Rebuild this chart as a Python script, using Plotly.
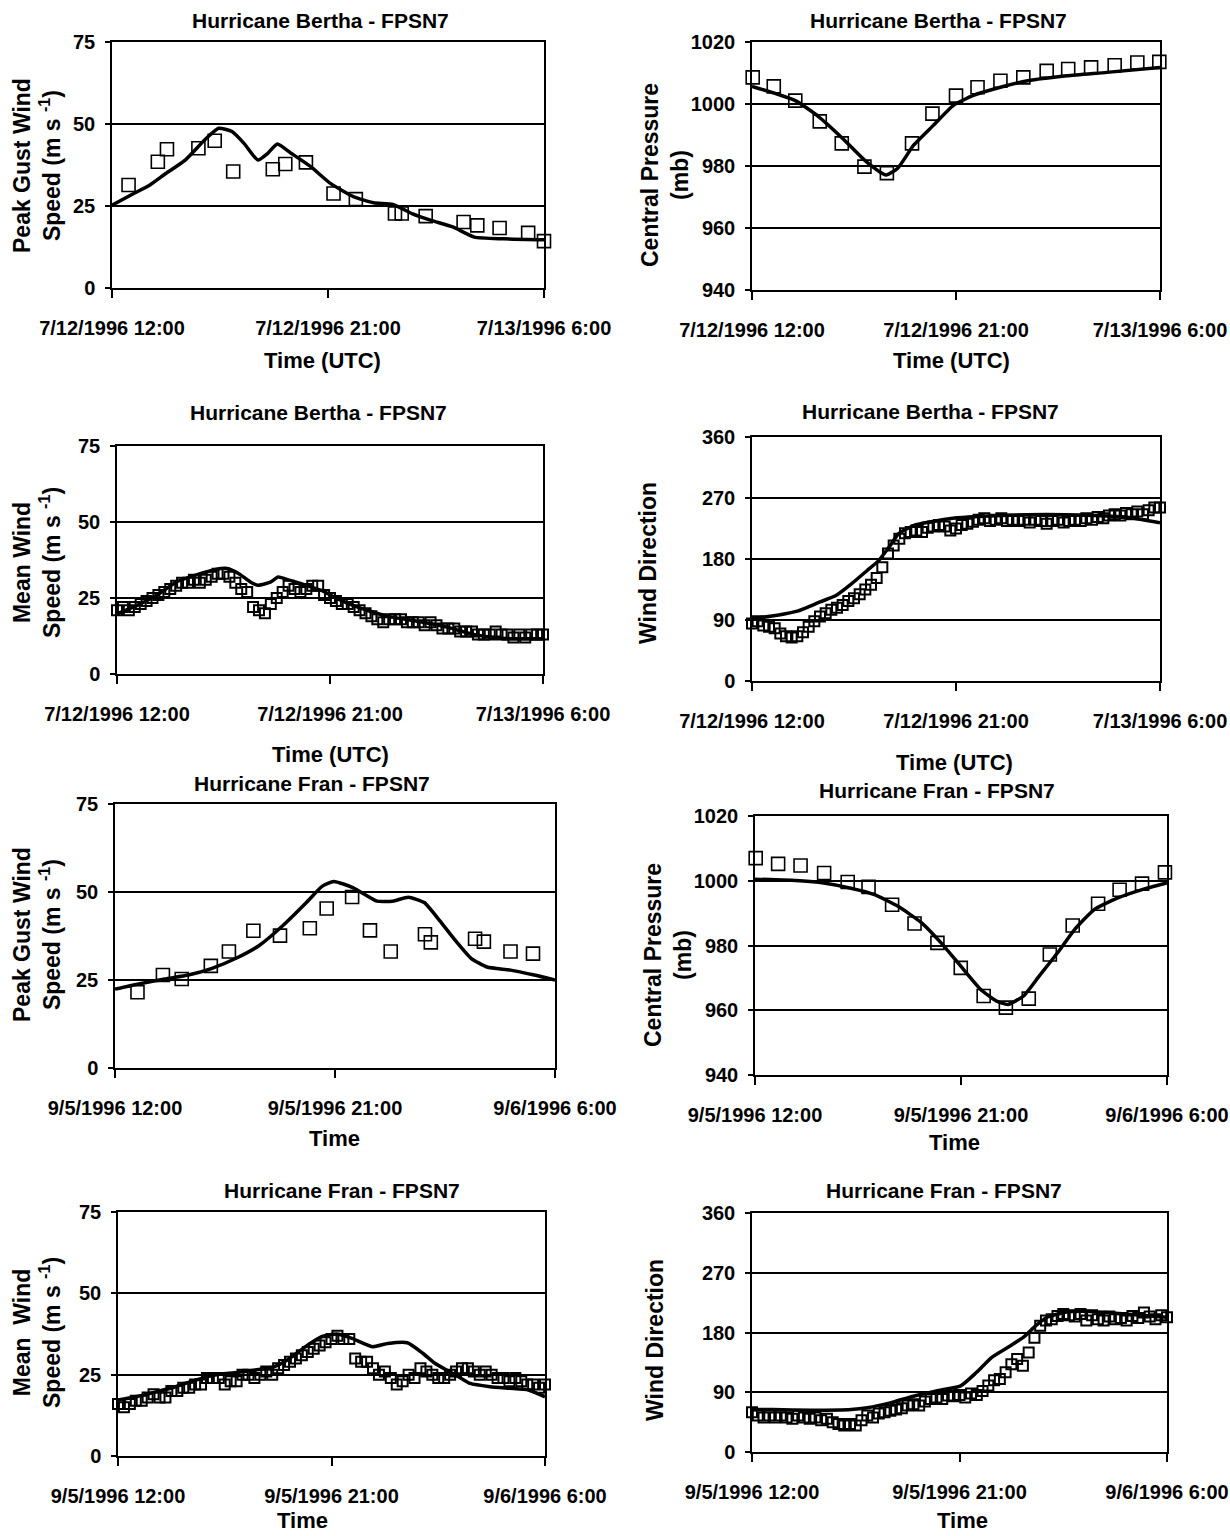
import plotly.graph_objects as go
import pandas as pd

W, H = 1230, 1536

# ---------------- data ----------------
bertha_start = "1996-07-12 12:00"
fran_start = "1996-09-05 12:00"

bertha_ticks = ["1996-07-12 12:00", "1996-07-12 21:00", "1996-07-13 06:00"]
bertha_ticktext = ["7/12/1996 12:00", "7/12/1996 21:00", "7/13/1996 6:00"]
fran_ticks = ["1996-09-05 12:00", "1996-09-05 21:00", "1996-09-06 06:00"]
fran_ticktext = ["9/5/1996 12:00", "9/5/1996 21:00", "9/6/1996 6:00"]

# Panel 1: Bertha peak gust (hours after start)
p1_line_h = [0, 0.77, 1.58, 2.24, 3.05, 3.87, 4.44, 5.0, 5.5, 6.08, 6.48, 6.89, 7.46, 8.28, 9.1, 10.08, 10.9, 11.7, 12.5, 13.3, 14.2, 15.1, 16.3, 18]
p1_line_v = [25.2, 28.3, 31.4, 34.9, 39, 45.2, 48.7, 47.7, 44.1, 39, 41, 43.9, 41.1, 37, 31.9, 27.8, 26, 25.5, 22.7, 20.6, 18.6, 15.5, 15, 14.7]
p1_obs_h = [0.69, 1.91, 2.29, 3.6, 4.28, 5.05, 6.7, 7.22, 8.08, 9.23, 10.16, 11.79, 12.07, 13.07, 14.65, 15.22, 16.15, 17.34, 18.0]
p1_obs_v = [31.4, 38.5, 42.3, 42.6, 44.9, 35.5, 36.2, 37.8, 38.3, 28.8, 27.1, 22.7, 22.7, 21.9, 20.1, 19.1, 18.3, 16.8, 14.3]

# Panel 2: Bertha central pressure
p2_line_h = [0, 1.91, 2.96, 4.0, 5.04, 5.91, 6.43, 7.13, 8.0, 8.87, 9.74, 10.96, 12.17, 13.9, 15.65, 18]
p2_line_v = [1005.7, 1001.1, 995.8, 988.9, 981.4, 977.1, 979.3, 986.7, 993.1, 999.5, 1002.7, 1005.4, 1007.5, 1009.1, 1010.2, 1011.8]
p2_obs_h = [0.03, 0.96, 1.91, 2.99, 3.96, 4.96, 5.95, 7.06, 7.96, 9.0, 9.95, 10.96, 11.97, 13.0, 13.95, 14.96, 16.0, 17.0, 17.97]
p2_obs_v = [1008.6, 1005.7, 1001.1, 994.4, 987.3, 979.8, 977.7, 987.3, 996.9, 1002.7, 1005.4, 1007.5, 1008.6, 1010.7, 1011.3, 1011.8, 1012.5, 1013.4, 1013.6]

# Panel 3: Bertha mean wind (obs every 15 min)
p3_line_h = [0, 0.83, 1.66, 2.49, 3.32, 4.16, 4.65, 5.15, 5.65, 5.98, 6.48, 6.81, 7.31, 7.98, 8.64, 9.31, 9.97, 10.8, 11.6, 12.5, 13.3, 14.1, 14.96, 15.8, 16.6, 18]
p3_line_v = [19.8, 22.5, 25.8, 30.2, 32.5, 34.4, 34.7, 33, 30.2, 29.2, 30.2, 31.9, 30.8, 29.2, 27.5, 24.8, 22.6, 20.4, 18.7, 17.6, 16.5, 15.1, 13.2, 12.1, 11.6, 11.6]
p3_obs_v = [21, 22, 21, 22, 23, 24, 25, 26, 27, 28, 29, 30, 30, 31, 30, 31, 32, 33, 33, 32,
            30, 28, 27, 22, 21, 20, 23, 25, 27, 29, 28, 27, 28, 29, 29, 26, 25, 24, 23, 23,
            22, 21, 20, 19, 18, 17, 18, 18, 18, 17, 17, 17, 16, 17, 16, 15, 15, 15, 14, 14,
            14, 13, 13, 13, 14, 13, 13, 12, 13, 12, 13, 13, 13]

# Panel 4: Bertha wind direction
p4_line_h = [0, 1.12, 2.0, 3.0, 3.7, 4.4, 5.08, 5.6, 6.1, 6.46, 7.15, 7.84, 8.7, 9.56, 11.3, 13.0, 14.7, 16.45, 18]
p4_line_v = [92, 97, 103, 116.6, 126, 143.6, 163, 178, 200, 217, 229.7, 234.6, 239.5, 242, 244.5, 245.5, 244.5, 242, 233.6]
p4_obs_v = [85, 88, 82, 80, 78, 70, 66, 64, 66, 72, 80, 88, 95, 100, 105, 108, 112, 118, 122, 128,
            135, 142, 152, 168, 188, 200, 210, 218, 220, 222, 220, 226, 228, 230, 228, 222, 225, 230, 232, 235,
            238, 240, 236, 238, 240, 236, 238, 236, 238, 234, 238, 236, 232, 236, 238, 234, 236, 238, 236, 240,
            238, 242, 240, 244, 246, 244, 248, 246, 250, 246, 252, 256, 256]

# Panel 5: Fran peak gust
p5_line_h = [0, 0.92, 2.04, 3.0, 3.97, 4.93, 5.9, 6.86, 7.83, 8.47, 8.95, 9.75, 10.72, 11.36, 12.0, 12.65, 13.29, 13.93, 14.58, 15.22, 16.18, 17.15, 18]
p5_line_v = [22.4, 23.8, 25.3, 26.4, 28.3, 31.1, 34.8, 40.4, 47, 51.6, 53, 51.2, 47.4, 47.4, 48.5, 47, 41.8, 36.2, 31.1, 28.7, 27.8, 26.4, 25]
p5_obs_h = [0.92, 1.96, 2.73, 3.92, 4.66, 5.66, 6.75, 7.97, 8.66, 9.7, 10.43, 11.28, 12.68, 12.92, 14.73, 15.09, 16.18, 17.1]
p5_obs_v = [21.5, 26.4, 25.3, 29, 33.1, 39, 37.6, 39.7, 45.3, 48.6, 39.1, 33.1, 38, 35.7, 36.7, 35.9, 33.1, 32.5]

# Panel 6: Fran central pressure
p6_line_h = [0, 1.96, 3.0, 4.19, 5.22, 6.25, 7.28, 8.13, 8.99, 9.85, 10.53, 11.05, 11.73, 12.42, 13.28, 13.96, 14.82, 15.85, 16.88, 18]
p6_line_v = [1000.5, 1000, 999.3, 997.7, 995.7, 992.1, 987, 980.8, 973.6, 966.5, 962.9, 961.8, 964.4, 970.6, 978.3, 984.9, 991.1, 994.7, 997.2, 999.3]
p6_obs_h = [0.03, 1.01, 1.99, 3.02, 4.05, 4.96, 5.99, 6.97, 7.97, 8.99, 9.99, 10.96, 11.96, 12.88, 13.88, 14.99, 15.93, 16.91, 17.91]
p6_obs_v = [1007, 1005.2, 1004.7, 1002.4, 999.6, 998.1, 992.6, 986.8, 980.8, 973.1, 964.4, 960.8, 963.6, 977.2, 986.2, 992.9, 997.2, 999.1, 1002.6]

# Panel 7: Fran mean wind
p7_line_h = [0, 0.78, 1.6, 2.43, 3.26, 4.09, 4.92, 5.75, 6.57, 7.24, 7.9, 8.56, 9.22, 9.89, 10.72, 11.37, 12.2, 12.86, 13.36, 13.85, 14.35, 14.85, 15.68, 16.5, 17.3, 18]
p7_line_v = [17.2, 18.2, 19.7, 21.3, 23.3, 24.9, 25.6, 26.4, 27.4, 30, 33.6, 36.6, 37.5, 36.1, 33.6, 34.6, 34.8, 31.5, 28.5, 26.4, 24.4, 22.3, 21.3, 20.8, 20.3, 18.2]
p7_obs_v = [16, 15, 16, 17, 17, 18, 19, 18, 18, 20, 20, 21, 21, 22, 22, 24, 24, 24, 22, 23,
            23, 25, 25, 24, 25, 26, 25, 27, 28, 29, 30, 31, 32, 33, 34, 35, 36, 37, 36, 36,
            30, 29, 29, 27, 25, 26, 24, 22, 23, 25, 24, 27, 26, 25, 24, 24, 25, 26, 27, 27,
            26, 25, 26, 25, 24, 24, 23, 24, 23, 22, 22, 21, 22]

# Panel 8: Fran wind direction
p8_line_h = [0, 0.9, 2.6, 4.3, 5.0, 6.0, 7.0, 8.0, 9.05, 9.74, 10.4, 11.1, 11.78, 12.3, 12.8, 13.65, 14.5, 16.2, 18]
p8_line_v = [64, 64, 63, 64, 66.7, 74, 84, 92, 99.6, 120, 142.6, 157.7, 173, 190, 203, 211, 212, 208, 203]
p8_obs_v = [60, 55, 52, 55, 52, 55, 52, 50, 55, 52, 50, 52, 48, 50, 45, 42, 40, 42, 40, 48,
            55, 52, 58, 60, 62, 64, 66, 70, 72, 70, 76, 80, 82, 80, 85, 84, 86, 82, 88, 86,
            92, 100, 108, 110, 120, 132, 140, 130, 150, 172, 190, 198, 200, 205, 208, 206, 204, 208, 198, 206,
            200, 198, 204, 200, 202, 198, 205, 202, 210, 204, 200, 206, 203]

# ---------------- layout helpers ----------------
FONT = "Liberation Sans, Arial"


def hrs(start, h):
    return pd.Timestamp(start) + pd.to_timedelta(h, unit="h")


def dense_times(start, n):
    return pd.date_range(start, periods=n, freq="15min")


panels = [
    dict(box=(112, 544, 42, 288), start=bertha_start, lh=p1_line_h, lv=p1_line_v, oh=p1_obs_h, ov=p1_obs_v,
         yr=[0, 75], dt=25, ms=13, mw=1.6, ticks=bertha_ticks, tt=bertha_ticktext,
         title=(320, 20, "Hurricane Bertha - FPSN7"), xt=(322, 360, "Time (UTC)"),
         yt=(37, 166, "Peak Gust Wind<br>Speed (m s <sup>-1</sup>)")),
    dict(box=(752, 1160, 42, 290), start=bertha_start, lh=p2_line_h, lv=p2_line_v, oh=p2_obs_h, ov=p2_obs_v,
         yr=[940, 1020], dt=20, ms=13, mw=1.6, ticks=bertha_ticks, tt=bertha_ticktext,
         title=(938, 20, "Hurricane Bertha - FPSN7"), xt=(952, 360, "Time (UTC)"),
         yt=(665, 175, "Central Pressure<br>(mb)")),
    dict(box=(117, 543, 446, 674), start=bertha_start, lh=p3_line_h, lv=p3_line_v, oh=None, ov=p3_obs_v,
         yr=[0, 75], dt=25, ms=10, mw=2, ticks=bertha_ticks, tt=bertha_ticktext,
         title=(318, 412, "Hurricane Bertha - FPSN7"), xt=(330, 755, "Time (UTC)"),
         yt=(37, 563, "Mean Wind<br>Speed (m s <sup>-1</sup>)")),
    dict(box=(752, 1160, 437, 681), start=bertha_start, lh=p4_line_h, lv=p4_line_v, oh=None, ov=p4_obs_v,
         yr=[0, 360], dt=90, ms=10, mw=2, ticks=bertha_ticks, tt=bertha_ticktext,
         title=(930, 411, "Hurricane Bertha - FPSN7"), xt=(955, 762, "Time (UTC)"),
         yt=(648, 563, "Wind Direction")),
    dict(box=(115, 555, 804, 1068), start=fran_start, lh=p5_line_h, lv=p5_line_v, oh=p5_obs_h, ov=p5_obs_v,
         yr=[0, 75], dt=25, ms=13, mw=1.6, ticks=fran_ticks, tt=fran_ticktext,
         title=(312, 783, "Hurricane Fran - FPSN7"), xt=(334, 1138, "Time"),
         yt=(37, 935, "Peak Gust Wind<br>Speed (m s <sup>-1</sup>)")),
    dict(box=(755, 1167, 816, 1075), start=fran_start, lh=p6_line_h, lv=p6_line_v, oh=p6_obs_h, ov=p6_obs_v,
         yr=[940, 1020], dt=20, ms=13, mw=1.6, ticks=fran_ticks, tt=fran_ticktext,
         title=(937, 790, "Hurricane Fran - FPSN7"), xt=(955, 1142, "Time"),
         yt=(668, 955, "Central Pressure<br>(mb)")),
    dict(box=(118, 545, 1212, 1456), start=fran_start, lh=p7_line_h, lv=p7_line_v, oh=None, ov=p7_obs_v,
         yr=[0, 75], dt=25, ms=10, mw=2, ticks=fran_ticks, tt=fran_ticktext,
         title=(342, 1190, "Hurricane Fran - FPSN7"), xt=(302, 1520, "Time"),
         yt=(37, 1333, "Mean  Wind<br>Speed (m s <sup>-1</sup>)")),
    dict(box=(752, 1167, 1213, 1452), start=fran_start, lh=p8_line_h, lv=p8_line_v, oh=None, ov=p8_obs_v,
         yr=[0, 360], dt=90, ms=10, mw=2, ticks=fran_ticks, tt=fran_ticktext,
         title=(944, 1190, "Hurricane Fran - FPSN7"), xt=(962, 1520, "Time"),
         yt=(655, 1340, "Wind Direction")),
]

fig = go.Figure()
annotations = []
layout = {}

for i, p in enumerate(panels, start=1):
    x0, x1, y0, y1 = p["box"]
    xa = "xaxis" if i == 1 else f"xaxis{i}"
    ya = "yaxis" if i == 1 else f"yaxis{i}"
    xref = "x" if i == 1 else f"x{i}"
    yref = "y" if i == 1 else f"y{i}"

    if p["oh"] is None:
        ox = dense_times(p["start"], len(p["ov"]))
    else:
        ox = hrs(p["start"], p["oh"])
    lx = hrs(p["start"], p["lh"])

    fig.add_trace(go.Scatter(
        x=ox, y=p["ov"], mode="markers", xaxis=xref, yaxis=yref, showlegend=False,
        cliponaxis=False,
        marker=dict(symbol="square-open", size=p["ms"], color="black",
                    line=dict(width=p["mw"], color="black")),
    ))
    fig.add_trace(go.Scatter(
        x=lx, y=p["lv"], mode="lines", xaxis=xref, yaxis=yref, showlegend=False,
        cliponaxis=False, line=dict(color="black", width=3.5, shape="spline", smoothing=0.5),
    ))

    layout[xa] = dict(
        domain=[x0 / W, x1 / W], anchor=yref, type="date",
        range=[p["ticks"][0], p["ticks"][2]],
        tickvals=p["ticks"], ticktext=p["tt"], ticks="outside", ticklen=8, tickwidth=1.5,
        tickcolor="black", ticklabelstandoff=13,
        tickfont=dict(family=FONT, size=20, color="black", weight="bold"),
        showgrid=False, zeroline=False, showline=True, linecolor="black", linewidth=1.5,
        mirror=True, fixedrange=True, automargin=False,
    )
    layout[ya] = dict(
        domain=[1 - y1 / H, 1 - y0 / H], anchor=xref, range=p["yr"], dtick=p["dt"],
        tick0=p["yr"][0], ticks="outside", ticklen=5, tickwidth=1.5, tickcolor="black",
        ticklabelstandoff=6,
        tickfont=dict(family=FONT, size=20, color="black", weight="bold"),
        showgrid=True, gridcolor="black", gridwidth=1.5, zeroline=False,
        showline=True, linecolor="black", linewidth=1.5, mirror=True, fixedrange=True,
        automargin=False,
    )

    tx, ty, ttxt = p["title"]
    annotations.append(dict(x=tx / W, y=1 - ty / H, xref="paper", yref="paper", text=ttxt,
                            showarrow=False, xanchor="center", yanchor="middle",
                            font=dict(family=FONT, size=21, color="black", weight="bold")))
    xtx, xty, xtxt = p["xt"]
    annotations.append(dict(x=xtx / W, y=1 - xty / H, xref="paper", yref="paper", text=xtxt,
                            showarrow=False, xanchor="center", yanchor="middle",
                            font=dict(family=FONT, size=22, color="black", weight="bold")))
    ytx, yty, ytxt = p["yt"]
    annotations.append(dict(x=ytx / W, y=1 - yty / H, xref="paper", yref="paper", text=ytxt,
                            showarrow=False, xanchor="center", yanchor="middle", textangle=-90,
                            font=dict(family=FONT, size=23, color="black", weight="bold")))

fig.update_layout(
    width=W, height=H, margin=dict(l=0, r=0, t=0, b=0),
    paper_bgcolor="white", plot_bgcolor="white",
    annotations=annotations, showlegend=False, **layout,
)

fig.write_html("out.html", config={"displayModeBar": False})
